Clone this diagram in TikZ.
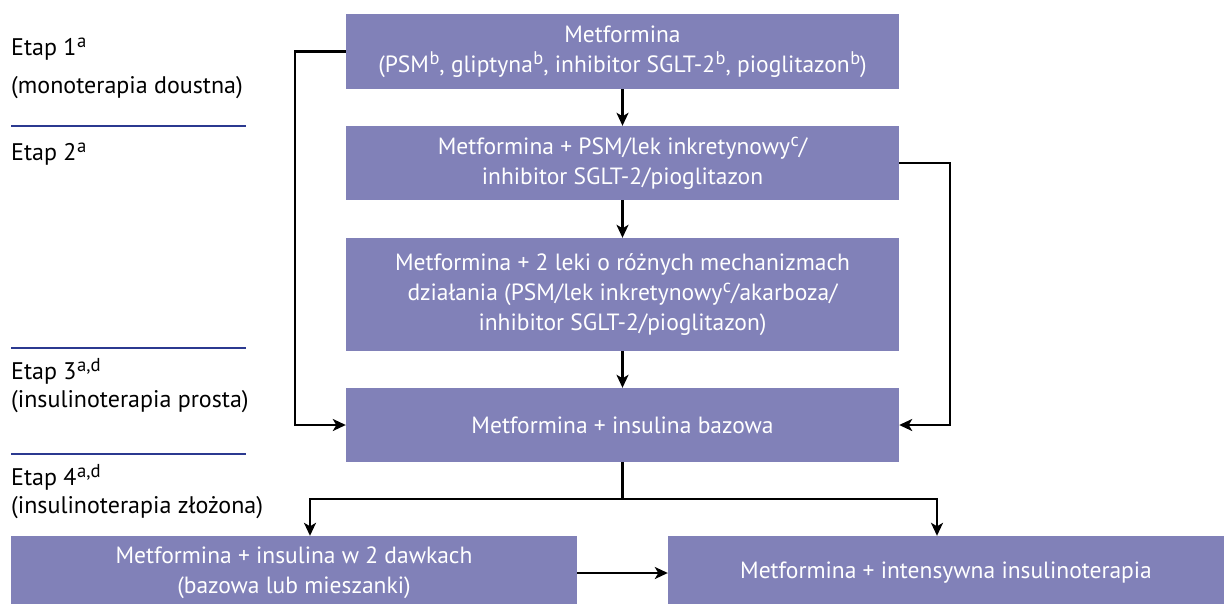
\documentclass[tikz,border=0pt]{standalone}
\usepackage{fontspec}
\setmainfont{PT Sans}
\usetikzlibrary{arrows.meta,calc}
\definecolor{boxfill}{RGB}{129,129,184}
\definecolor{stageblue}{RGB}{43,57,144}
\newcommand{\sups}[1]{\raisebox{0.33em}{\kern0.5pt\scalebox{0.78}{#1}}}
\tikzset{
  box/.style={fill=boxfill, text=white, inner sep=0pt, align=center, font=\fontsize{23.5}{30}\selectfont},
  lbl/.style={anchor=base west, inner sep=0pt, font=\fontsize{24}{28}\selectfont},
  arr/.style={line width=2.2pt, -{Stealth[length=13pt,width=12pt,inset=3.5pt]}},
  conn/.style={line width=2.2pt},
  stageline/.style={draw=stageblue, line width=2.4pt}
}
\begin{document}
\begin{tikzpicture}[x=1pt,y=-1pt]
\useasboundingbox (0,0) rectangle (1224,603);
% boxes
\node[box, minimum width=553pt, minimum height=75pt] (b1) at (622.5,51.5)
  {Metformina\\(PSM\sups{b}, gliptyna\sups{b}, inhibitor SGLT-2\sups{b}, pioglitazon\sups{b})};
\node[box, minimum width=553pt, minimum height=74pt] (b2) at (622.5,163)
  {Metformina + PSM/lek inkretynowy\sups{c}/\\inhibitor SGLT-2/pioglitazon};
\node[box, minimum width=553pt, minimum height=113pt] (b3) at (622.5,294.5)
  {Metformina + 2 leki o różnych mechanizmach\\działania (PSM/lek inkretynowy\sups{c}/akarboza/\\inhibitor SGLT-2/pioglitazon)};
\node[box, minimum width=553pt, minimum height=74pt] (b4) at (622.5,425)
  {Metformina + insulina bazowa};
\node[box, minimum width=566pt, minimum height=74pt] (b5) at (294,573)
  {Metformina + insulina w 2 dawkach\\(bazowa lub mieszanki)};
\node[box, minimum width=556pt, minimum height=74pt] (b6) at (946,573)
  {Metformina + intensywna insulinoterapia};
% stage labels
\node[lbl] (e1) at (11,55) {Etap 1\sups{a}};
\node[lbl] (e1b) at (11,93) {(monoterapia doustna)};
\node[lbl] (e2) at (11,160) {Etap 2\sups{a}};
\node[lbl] (e3) at (11,379) {Etap 3\sups{a,d}};
\node[lbl] (e3b) at (11,407) {(insulinoterapia prosta)};
\node[lbl] (e4) at (11,485) {Etap 4\sups{a,d}};
\node[lbl] (e4b) at (11,513) {(insulinoterapia złożona)};
% stage separators
\draw[stageline] (11,126) -- (246,126);
\draw[stageline] (11,348) -- (246,348);
\draw[stageline] (11,454) -- (246,454);
% connector helper coordinates
\coordinate (lft) at (295,0);
\coordinate (rgt) at (950,0);
\coordinate (split) at (622.5,499);
\coordinate (dl) at (310,499);
\coordinate (dr) at (937,499);
% connectors
\draw[arr] (b1) -- (b2);
\draw[arr] (b2) -- (b3);
\draw[arr] (b3) -- (b4);
\draw[arr] (b1.west) -- (b1.west -| lft) -- (b4.west -| lft) -- (b4.west);
\draw[arr] (b2.east) -- (b2.east -| rgt) -- (b4.east -| rgt) -- (b4.east);
\draw[conn] (b4.south) -- (split);
\draw[arr] (split) -- (dl) -- (dl |- b5.north);
\draw[arr] (split) -- (dr) -- (dr |- b6.north);
\draw[arr] (b5.east) -- (b6.west);
\end{tikzpicture}
\end{document}
